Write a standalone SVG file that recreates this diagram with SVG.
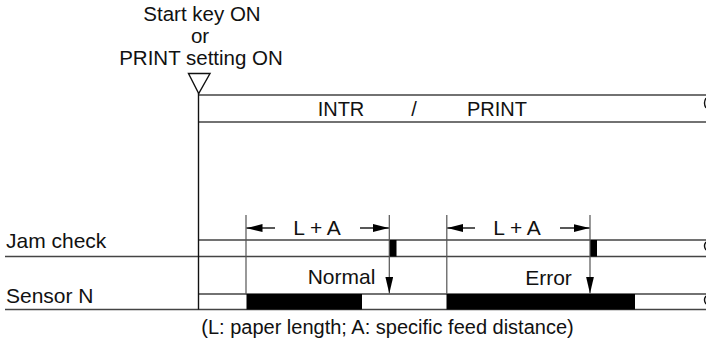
<svg xmlns="http://www.w3.org/2000/svg" width="706" height="344" viewBox="0 0 706 344">
<style>
text{font-family:"Liberation Sans",Arial,sans-serif;font-size:21px;fill:#111}
.m{text-anchor:middle}
.ln{stroke:#444;stroke-width:1.4;fill:none}
.dk{stroke:#111;stroke-width:1.4;fill:none}
.dim{stroke:#555;stroke-width:1.2;fill:none}
.bar{fill:#000}
</style>
<defs>
<marker id="ah" viewBox="0 0 16 8" refX="16" refY="4" markerWidth="16" markerHeight="8" markerUnits="userSpaceOnUse" orient="auto">
<path d="M0,0 L16,4 L0,8 Z" fill="#000"/>
</marker>
<marker id="dn" viewBox="0 0 8 17" refX="4" refY="17" markerWidth="8" markerHeight="17" markerUnits="userSpaceOnUse" orient="0">
<path d="M0,0 L8,0 L4,17 Z" fill="#000"/>
</marker>
</defs>
<g id="trigger">
<text class="m" x="202" y="21" style="font-size:20.5px">Start key ON</text>
<text class="m" x="200" y="43" style="font-size:20.5px">or</text>
<text class="m" x="201" y="65" style="font-size:20.5px">PRINT setting ON</text>
<path class="dk" d="M188.5,73.5 L210,73.5 L198.7,93.5 Z"/>
</g>
<g id="intr-band">
<path class="ln" d="M198.5,95 H706 M198.5,122 H706"/>
<path class="dk" d="M706,98 q-3,5 0,10"/>
<text class="m" x="341" y="116" style="font-size:20px">INTR</text>
<text class="m" x="414" y="116" style="font-size:20px">/</text>
<text class="m" x="497" y="116" style="font-size:20px">PRINT</text>
</g>
<g id="jam-check">
<text x="6" y="248">Jam check</text>
<path class="ln" d="M198.5,240 H706 M5,256.5 H706"/>
<path class="dk" d="M706,242 q-3,4 0,8"/>
<rect class="bar" x="389" y="240" width="7.5" height="16.5"/>
<rect class="bar" x="590" y="240" width="7" height="16.5"/>
</g>
<g id="sensor-n">
<text x="6" y="303">Sensor N</text>
<path class="ln" d="M198.5,294 H706 M5,309.5 H706"/>
<path class="dk" d="M706,296 q-3,4 0,8"/>
<rect class="bar" x="246.5" y="294" width="115.5" height="15.5"/>
<rect class="bar" x="446.5" y="294" width="188.5" height="15.5"/>
</g>
<g id="connectors">
<path class="dk" d="M198.5,93 V309.5"/>
<path class="dim" d="M246,215 V294 M389.3,215 V276" />
<path class="dim" d="M446.8,215 V294 M590,215 V276" />
<path d="M389.3,276 V293.5" class="dim" marker-end="url(#dn)"/>
<path d="M590,276 V293.5" class="dim" marker-end="url(#dn)"/>
<path class="dk" d="M275,228 H246.5" marker-end="url(#ah)"/>
<path class="dk" d="M360,228 H388.8" marker-end="url(#ah)"/>
<path class="dk" d="M475,228 H447.3" marker-end="url(#ah)"/>
<path class="dk" d="M560,228 H589.5" marker-end="url(#ah)"/>
</g>
<g id="labels">
<text class="m" x="317" y="235">L + A</text>
<text class="m" x="517" y="235">L + A</text>
<text class="m" x="341.5" y="284">Normal</text>
<text class="m" x="548.5" y="285">Error</text>
<text class="m" x="387.5" y="334" style="font-size:20px">(L: paper length; A: specific feed distance)</text>
</g>
</svg>
